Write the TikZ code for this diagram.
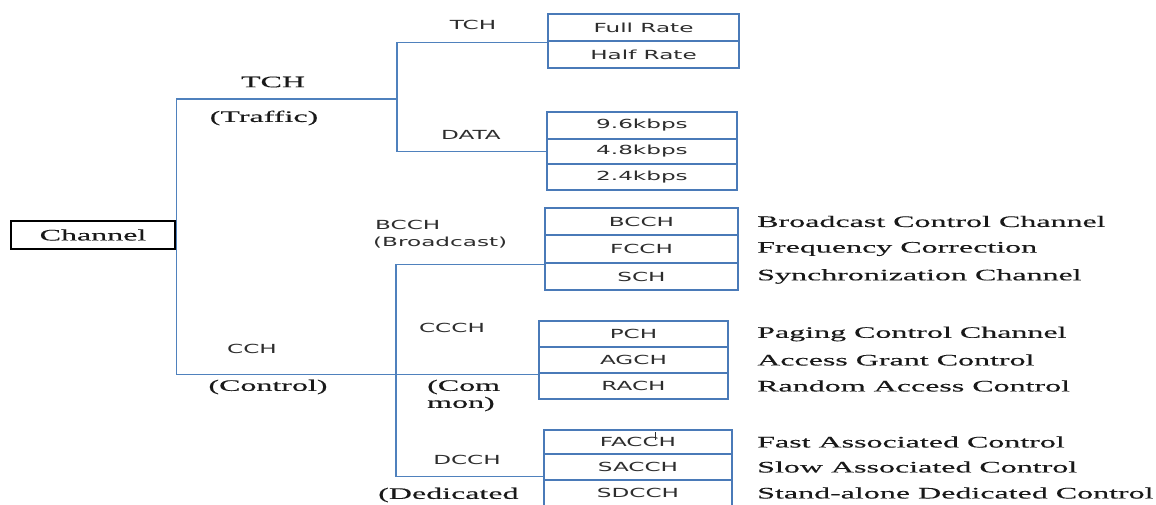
\documentclass[tikz,border=0pt]{standalone}
\usepackage{fontspec}
\newfontfamily\wserif{Liberation Serif}[FakeStretch=2.0,FakeBold=0.2]
\newfontfamily\wsans{DejaVu Sans}[FakeStretch=1.85]
\definecolor{lineblue}{RGB}{79,129,189}
\definecolor{boxblue}{RGB}{74,122,184}
\definecolor{txtgray}{RGB}{45,45,45}
\tikzset{
  conn/.style={draw=lineblue, line width=1.5pt},
  cell/.style={draw=boxblue, line width=2.8pt, inner sep=0pt,
    font=\wsans\fontsize{12.5}{14}\selectfont, text=txtgray},
  serif/.style={inner sep=0pt, font=\wserif\fontsize{16}{17}\selectfont, text=black!90},
  sans/.style={inner sep=0pt, font=\wsans\fontsize{12.5}{14}\selectfont, text=txtgray},
  desc/.style={serif, anchor=west},
}
\begin{document}
\begin{tikzpicture}[x=1pt, y=-1pt]
\useasboundingbox (0,0) rectangle (1156,504);
\clip (0,0) rectangle (1156,504);
\fill[white] (0,0) rectangle (1156,504);

% root
\node[draw=black, line width=1.3pt, minimum width=164pt, minimum height=28pt,
      inner sep=0pt, serif] (chan) at (93,235) {Channel};

% traffic channels
\node[cell, minimum width=191pt, minimum height=27pt] (fr) at (643.5,27.5) {Full Rate};
\node[cell, minimum width=191pt, minimum height=27pt] (hr) at (643.5,54.5) {Half Rate};

\node[cell, minimum width=190pt, minimum height=27pt] (r96) at (642,125.5) {9.6kbps};
\node[cell, minimum width=190pt, minimum height=25pt] (r48) at (642,151.5) {4.8kbps};
\node[cell, minimum width=190pt, minimum height=26pt] (r24) at (642,177) {2.4kbps};

% broadcast channels
\node[cell, minimum width=193pt, minimum height=27pt] (bcch) at (641.5,221.5) {BCCH};
\node[cell, minimum width=193pt, minimum height=28pt] (fcch) at (641.5,249) {FCCH};
\node[cell, minimum width=193pt, minimum height=27pt] (sch)  at (641.5,276.5) {SCH};

% common control channels
\node[cell, minimum width=189pt, minimum height=26pt] (pch)  at (633.5,334) {PCH};
\node[cell, minimum width=189pt, minimum height=26pt] (agch) at (633.5,360) {AGCH};
\node[cell, minimum width=189pt, minimum height=26pt] (rach) at (633.5,386) {RACH};

% dedicated control channels
\node[cell, minimum width=188pt, minimum height=24pt] (facch) at (638,442) {FACCH};
\node[cell, minimum width=188pt, minimum height=26pt] (sacch) at (638,467) {SACCH};
\node[cell, minimum width=188pt, minimum height=26pt] (sdcch) at (638,493) {SDCCH};
\draw[txtgray, line width=0.6pt] (655.5,432) -- (655.5,440);

% connectors
\coordinate (tx) at (397,99);
\coordinate (cx) at (396,300);
\draw[conn] (fr.south west) -| (tx) |- (r48.west);
\draw[conn] (tx) -| ([xshift=1pt]chan.east) |- (agch.south west);
\draw[conn] (fcch.south west) -| (cx) |- ([yshift=5pt]sacch.south west);

% branch labels
\node[serif] (ltch) at (273,82) {TCH};
\node[serif] (ltraffic) at (264,118) {(Traffic)};
\node[sans] (ltchs) at (473,25) {TCH};
\node[sans] (ldata) at (471,135) {DATA};
\node[sans, anchor=west] (lbcch) at (375,225) {BCCH};
\node[sans, anchor=west] (lbroad) at (373,243) {(Broadcast)};
\node[sans] (lcch) at (252,349) {CCH};
\node[serif] (lcontrol) at (268,387) {(Control)};
\node[sans] (lccch) at (452,328) {CCCH};
\node[serif, anchor=west, align=left] (lcommon) at (427,395.5) {(Com\\mon)};
\node[sans] (ldcch) at (467,460) {DCCH};
\node[serif, anchor=west] (lded) at (378,495) {(Dedicated};

% descriptions
\coordinate (dx) at (757,0);
\node[desc] (d1) at (bcch -| dx) {Broadcast Control Channel};
\node[desc] (d2) at (fcch -| dx) {Frequency Correction};
\node[desc] (d3) at (sch -| dx) {Synchronization Channel};
\node[desc] (d4) at (pch -| dx) {Paging Control Channel};
\node[desc] (d5) at (agch -| dx) {Access Grant Control};
\node[desc] (d6) at (rach -| dx) {Random Access Control};
\node[desc] (d7) at (facch -| dx) {Fast Associated Control};
\node[desc] (d8) at (sacch -| dx) {Slow Associated Control};
\node[desc] (d9) at (sdcch -| dx) {Stand-alone Dedicated Control};
\end{tikzpicture}
\end{document}
